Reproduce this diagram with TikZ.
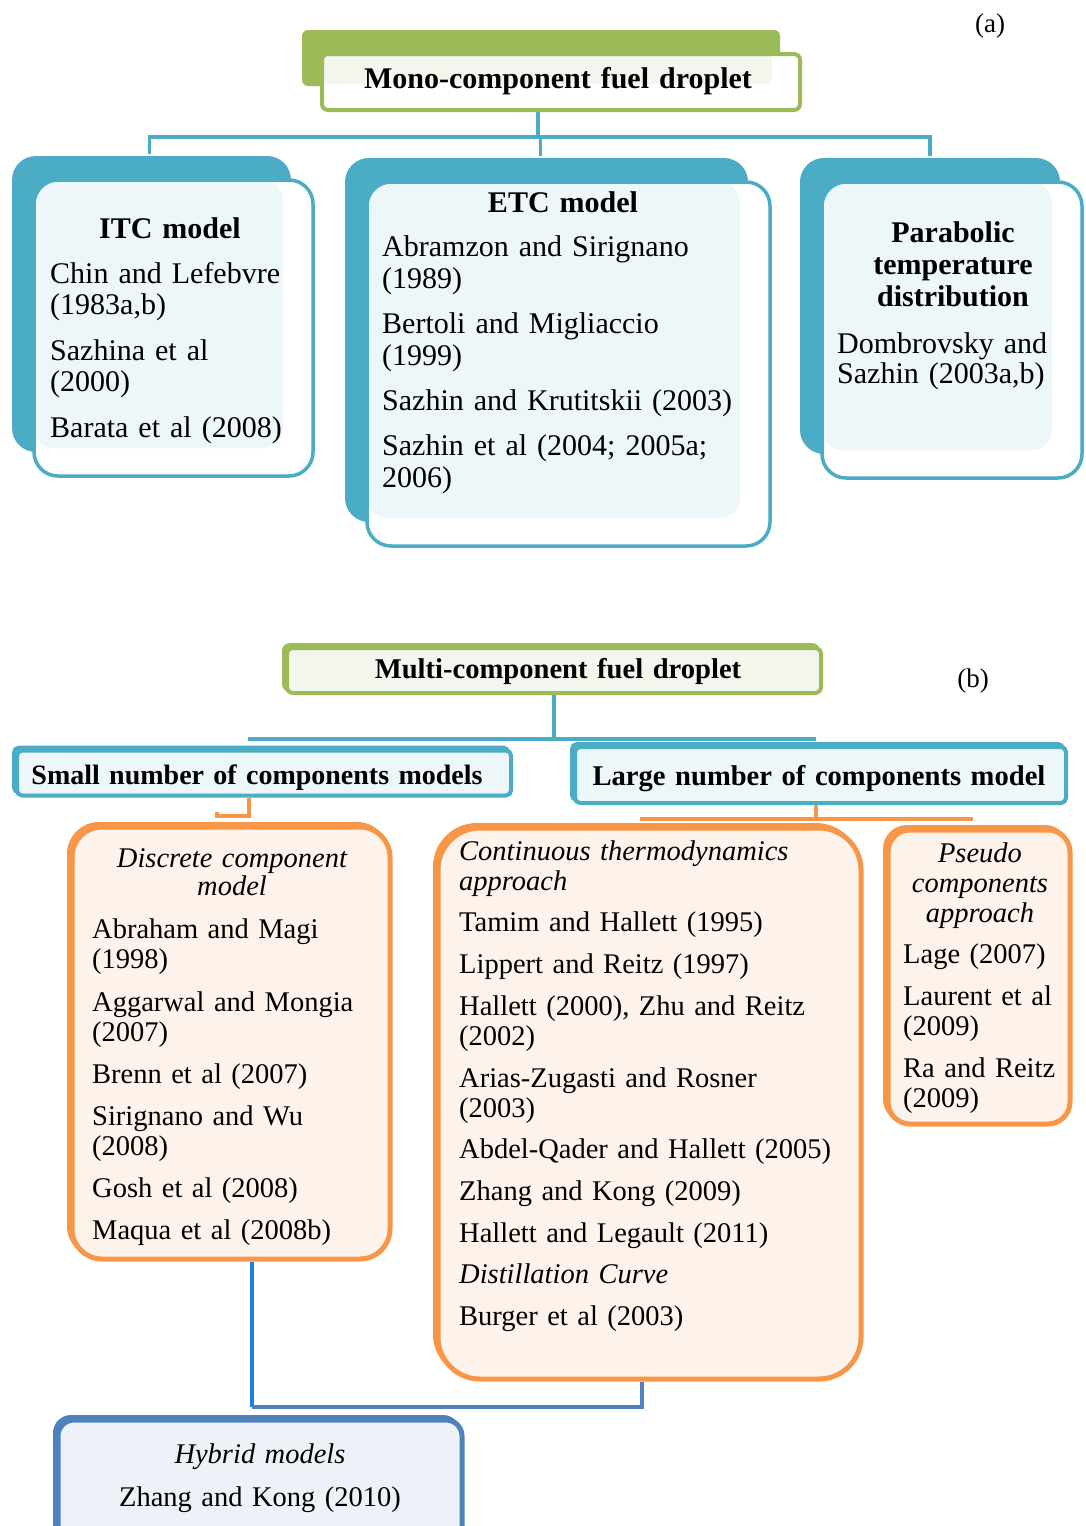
\documentclass[tikz,border=0pt]{standalone}
\usepackage{fontspec}
\setmainfont{Liberation Serif}
\usetikzlibrary{shadows}

\definecolor{aqua}{HTML}{4BACC6}
\definecolor{aquafill}{HTML}{EDF6F9}
\definecolor{leaf}{HTML}{9BBB59}
\definecolor{leaffill}{HTML}{F3F6EC}
\definecolor{tang}{HTML}{F79646}
\definecolor{tangfill}{HTML}{FDF3EA}
\definecolor{steel}{HTML}{4F81BD}
\definecolor{steelfill}{HTML}{EEF2F8}
\definecolor{azure}{HTML}{1A7FEF}

\tikzset{
  every node/.style={font=\fontsize{28.5}{30}\selectfont},
  card/.style={rectangle, rounded corners=24pt, draw=aqua, line width=3.5pt, fill=white, inner sep=0pt,
    general shadow={fill=aqua, shadow xshift=-22pt, shadow yshift=24pt},
    path picture={\fill[aquafill, rounded corners=20pt] (path picture bounding box.north west) rectangle ([xshift=-30pt,yshift=28pt]path picture bounding box.south east);}},
  titlecard/.style={rectangle, rounded corners=6pt, draw=leaf, line width=4pt, fill=white, inner sep=0pt,
    general shadow={fill=leaf, shadow xshift=-20pt, shadow yshift=24pt},
    path picture={\fill[leaffill] (path picture bounding box.north west) rectangle ([xshift=-28pt,yshift=26pt]path picture bounding box.south east);}},
  flat/.style={rectangle, draw=#1, fill=#1fill, line width=4pt, inner sep=0pt,
    general shadow={draw=#1, line width=4pt, shadow xshift=-3pt, shadow yshift=3pt}},
  head/.style={anchor=base, align=center, text width=520, inner sep=0pt},
  entry/.style={anchor=base west, align=left, text width=460, inner sep=0pt},
  aqualink/.style={draw=aqua, line width=3.5pt},
  tanglink/.style={draw=tang, line width=4pt},
}

\begin{document}
\begin{tikzpicture}[x=1pt, y=-1pt]
  \useasboundingbox (0,0) rectangle (1085,1526);

  % (a) mono-component
  \node[font=\fontsize{27}{27}\selectfont, anchor=base] (labela) at (990,32) {(a)};
  \node[titlecard, minimum width=478, minimum height=56] (monobox) at (561,82) {};
  \node[head, font=\fontsize{30}{30}\selectfont\bfseries] (monohead) at (558,88) {Mono-component fuel droplet};

  \node[card, minimum width=279, minimum height=296] (itcbox) at (173.5,328) {};
  \node[card, minimum width=403, minimum height=364] (etcbox) at (568.5,364) {};
  \node[card, minimum width=260, minimum height=296] (parbox) at (952,330) {};

  \draw[aqualink] ([xshift=-23pt]monobox.south) -- ++(0,25) coordinate (monobus);
  \draw[aqualink] ([xshift=-24pt,yshift=24pt]itcbox.north) |- (monobus) -| ([xshift=-22pt,yshift=24pt]parbox.north);
  \draw[aqualink] ([xshift=-28pt,yshift=24pt]etcbox.north) |- (monobus);

  \node[head, font=\fontsize{30}{30}\selectfont\bfseries] (itchead) at (170,238) {ITC model};
  \node[entry, font=\fontsize{30}{31}\selectfont] (itcrefs) at (50,283) {Chin and Lefebvre\\(1983a,b)\\[15pt]Sazhina et al\\(2000)\\[15pt]Barata et al (2008)};

  \node[head, font=\fontsize{30}{30}\selectfont\bfseries] (etchead) at (563,212) {ETC model};
  \node[entry, font=\fontsize{30}{32}\selectfont] (etcrefs) at (382,256) {Abramzon and Sirignano\\(1989)\\[13pt]Bertoli and Migliaccio\\(1999)\\[13pt]Sazhin and Krutitskii (2003)\\[13pt]Sazhin et al (2004; 2005a;\\2006)};

  \node[head, font=\fontsize{30}{32}\selectfont\bfseries] (parhead) at (953,242) {Parabolic\\temperature\\distribution};
  \node[entry, font=\fontsize{30}{30}\selectfont] (parrefs) at (837,353) {Dombrovsky and\\Sazhin (2003a,b)};

  % (b) multi-component
  \node[font=\fontsize{27}{27}\selectfont, anchor=base] (labelb) at (973,687) {(b)};
  \node[flat=leaf, rounded corners=6pt, minimum width=534, minimum height=45] (multibox) at (554,670.5) {};
  \node[head, font=\fontsize{28.6}{30}\selectfont\bfseries] (multihead) at (558,678) {Multi-component fuel droplet};

  \node[flat=aqua, rounded corners=5pt, minimum width=494, minimum height=45] (smallbox) at (264,773) {};
  \node[head, font=\fontsize{28}{28}\selectfont\bfseries] (smallhead) at (257,784) {Small number of components models};
  \node[flat=aqua, rounded corners=5pt, minimum width=491, minimum height=56] (largebox) at (820.5,775) {};
  \node[head, font=\fontsize{28.6}{28}\selectfont\bfseries] (largehead) at (819,785) {Large number of components model};

  \node[flat=tang, line width=5pt, rounded corners=30pt, minimum width=318, minimum height=432] (discbox) at (231,1043) {};
  \node[flat=tang, line width=5pt, rounded corners=42pt, minimum width=423, minimum height=551] (contbox) at (649.5,1103.5) {};
  \node[flat=tang, line width=5pt, rounded corners=22pt, minimum width=182, minimum height=294] (pseudobox) at (979,977) {};
  \node[flat=steel, line width=5pt, rounded corners=16pt, minimum width=404, minimum height=130] (hybridbox) at (260,1485) {};

  \draw[aqualink] (multibox.south) -- ++(0,44) coordinate (multibus);
  \draw[aqualink] ([xshift=-16pt]smallbox.north |- multibus) -- ([xshift=-5pt]largebox.north |- multibus);
  \draw[tanglink] ([xshift=-15pt]smallbox.south) -- ++(0,18) -| ([xshift=-14pt,yshift=13pt]discbox.north);
  \draw[tanglink] ([xshift=-5pt]largebox.south) -- ++(0,14) coordinate (largebus);
  \draw[tanglink] ([xshift=-10pt]contbox.north |- largebus) -- ([xshift=-6pt]pseudobox.north |- largebus);
  \draw[azure, line width=4pt] ([xshift=21pt]discbox.south) -- ++(0,145) coordinate (hybridbus);
  \draw[steel, line width=4pt] (hybridbus) -| ([xshift=-7.5pt]contbox.south);

  \node[head, font=\fontsize{28.5}{28}\selectfont\itshape] (dischead) at (232,867) {Discrete component\\model};
  \node[entry] (discrefs) at (92,938) {Abraham and Magi\\(1998)\\[13pt]Aggarwal and Mongia\\(2007)\\[12pt]Brenn et al (2007)\\[12pt]Sirignano and Wu\\(2008)\\[12pt]Gosh et al (2008)\\[12pt]Maqua et al (2008b)};

  \node[entry] (contrefs) at (459,860) {\textit{Continuous thermodynamics}\\\textit{approach}\\[11pt]Tamim and Hallett (1995)\\[12pt]Lippert and Reitz (1997)\\[12pt]Hallett (2000), Zhu and Reitz\\(2002)\\[12pt]Arias-Zugasti and Rosner\\(2003)\\[11pt]Abdel-Qader and Hallett (2005)\\[12pt]Zhang and Kong (2009)\\[12pt]Hallett and Legault (2011)\\[11pt]\textit{Distillation Curve}\\[12pt]Burger et al (2003)};

  \node[head, font=\fontsize{28.5}{30}\selectfont\itshape] (pseudohead) at (980,862) {Pseudo\\components\\approach};
  \node[entry] (pseudorefs) at (903,963) {Lage (2007)\\[12pt]Laurent et al\\(2009)\\[12pt]Ra and Reitz\\(2009)};

  \node[head] (hybridhead) at (260,1463) {\textit{Hybrid models}\\[13pt]Zhang and Kong (2010)};
\end{tikzpicture}
\end{document}
